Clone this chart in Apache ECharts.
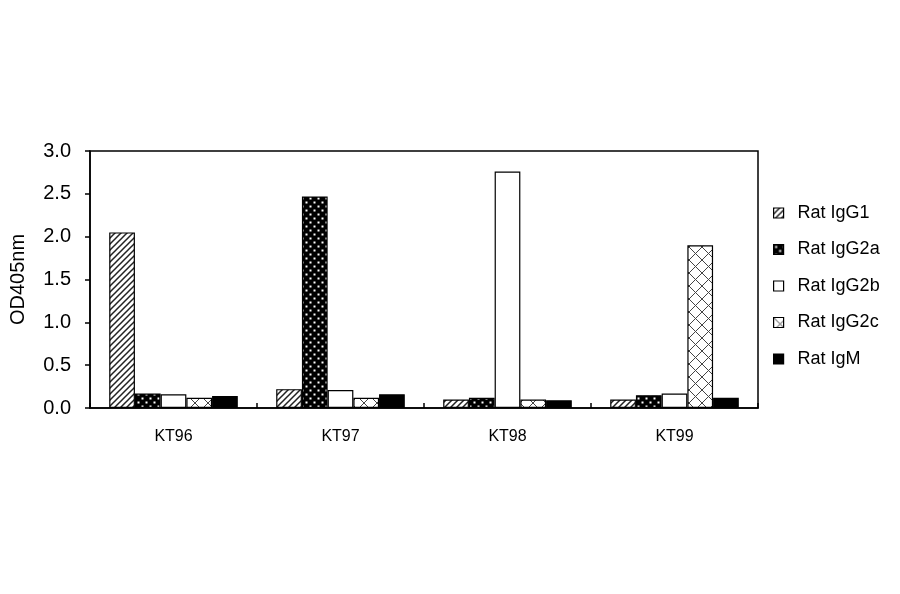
<!DOCTYPE html>
<html>
<head>
<meta charset="utf-8">
<script src="https://cdn.jsdelivr.net/npm/echarts@6/dist/echarts.min.js"></script>
<style>
html,body{margin:0;padding:0;background:#fff;}
#chart{width:900px;height:594px;}
</style>
</head>
<body>
<div id="chart"></div>
<script>
const categories = ['KT96', 'KT97', 'KT98', 'KT99'];
const seriesNames = ['Rat IgG1', 'Rat IgG2a', 'Rat IgG2b', 'Rat IgG2c', 'Rat IgM'];
const ratIgG1  = [2.05, 0.22, 0.10, 0.10];
const ratIgG2a = [0.17, 2.47, 0.12, 0.15];
const ratIgG2b = [0.16, 0.21, 2.76, 0.17];
const ratIgG2c = [0.12, 0.12, 0.10, 1.90];
const ratIgM   = [0.14, 0.16, 0.09, 0.12];
const yMin = 0, yMax = 3.0, yInterval = 0.5;

function tile(size, bg, draw) {
  const c = document.createElement('canvas');
  c.width = size; c.height = size;
  const ctx = c.getContext('2d');
  ctx.fillStyle = bg;
  ctx.fillRect(0, 0, size, size);
  draw(ctx, size);
  return c;
}
function diag(ctx, s) {
  ctx.beginPath();
  ctx.moveTo(-1, s + 1); ctx.lineTo(s + 1, -1);
  ctx.moveTo(-1, 1); ctx.lineTo(1, -1);
  ctx.moveTo(s - 1, s + 1); ctx.lineTo(s + 1, s - 1);
  ctx.stroke();
}
const patHatch = tile(6, '#fff', (ctx, s) => { ctx.strokeStyle = '#222'; ctx.lineWidth = 1.5; diag(ctx, s); });
const patDots = tile(8, '#000', (ctx, s) => {
  ctx.fillStyle = '#fff';
  ctx.fillRect(1.5, 1.5, 2, 2);
  ctx.fillRect(5.5, 5.5, 2, 2);
});
const patCross = tile(13, '#fff', (ctx, s) => {
  ctx.strokeStyle = '#444'; ctx.lineWidth = 1;
  ctx.beginPath();
  ctx.moveTo(-1, -1); ctx.lineTo(s + 1, s + 1);
  ctx.moveTo(-1, s + 1); ctx.lineTo(s + 1, -1);
  ctx.stroke();
});

const fills = [
  { image: patHatch, repeat: 'repeat' },
  { image: patDots, repeat: 'repeat' },
  '#ffffff',
  { image: patCross, repeat: 'repeat' },
  '#000000'
];
const dataSets = [ratIgG1, ratIgG2a, ratIgG2b, ratIgG2c, ratIgM];

const chart = echarts.init(document.getElementById('chart'));
const font = 'Liberation Sans, Arial, sans-serif';
chart.setOption({
  backgroundColor: '#fff',
  animation: false,
  textStyle: { fontFamily: font, color: '#000' },
  grid: { left: 90, right: 142, top: 151, bottom: 186, show: true, borderColor: '#000', borderWidth: 1.5, backgroundColor: 'transparent' },
  legend: {
    orient: 'vertical',
    left: 768,
    top: 199,
    itemWidth: 10,
    itemHeight: 10,
    itemGap: 18.5,
    icon: 'rect',
    data: seriesNames,
    itemStyle: { borderColor: '#000', borderWidth: 1.2 },
    textStyle: { fontFamily: font, fontSize: 18, color: '#000', lineHeight: 18, padding: [0, 0, 0, 9] }
  },
  xAxis: {
    type: 'category',
    data: categories,
    axisLine: { lineStyle: { color: '#000', width: 1.5 } },
    axisTick: { show: true, inside: true, length: 5, lineStyle: { color: '#000', width: 1.5 } },
    axisLabel: { fontFamily: font, fontSize: 16, color: '#000', margin: 21 },
    splitLine: { show: false }
  },
  yAxis: {
    type: 'value',
    min: yMin, max: yMax, interval: yInterval,
    name: 'OD405nm',
    nameLocation: 'middle',
    nameGap: 62,
    nameRotate: 90,
    nameTextStyle: { fontFamily: font, fontSize: 20, color: '#000' },
    axisLine: { show: true, lineStyle: { color: '#000', width: 1.5 } },
    axisTick: { show: true, inside: false, length: 5, lineStyle: { color: '#000', width: 1.5 } },
    axisLabel: { fontFamily: font, fontSize: 20, color: '#000', margin: 19, formatter: v => v.toFixed(1) },
    splitLine: { show: false }
  },
  series: seriesNames.map((name, i) => ({
    name: name,
    type: 'bar',
    data: dataSets[i],
    barGap: '0%',
    barCategoryGap: '23%',
    itemStyle: { color: fills[i], borderColor: '#000', borderWidth: 1.2 },
    emphasis: { disabled: true }
  }))
});
</script>
</body>
</html>
